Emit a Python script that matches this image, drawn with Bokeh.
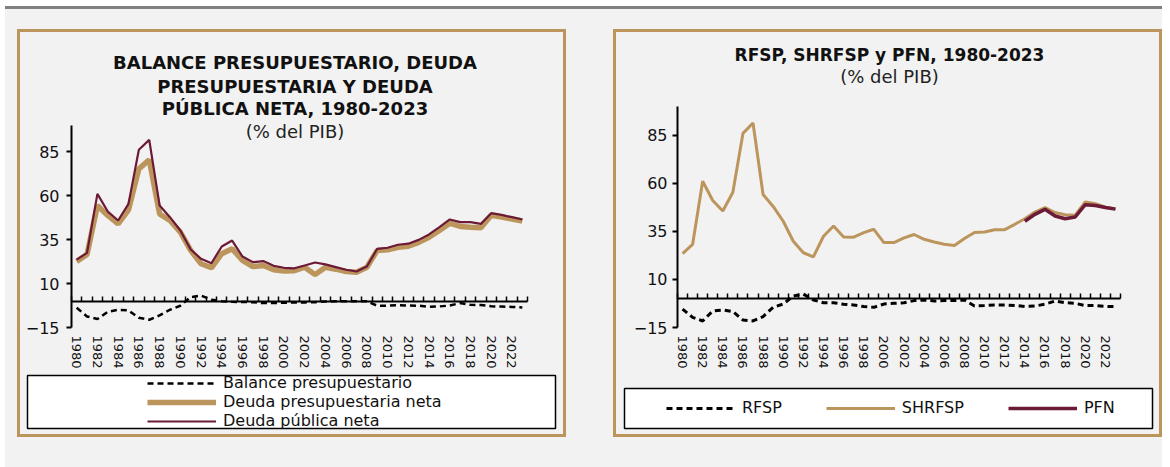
from bokeh.plotting import figure
from bokeh.models import (LinearAxis, FixedTicker, Range1d, Label, Legend, LegendItem,
                          BoxAnnotation)
from bokeh.layouts import row, column
from bokeh.embed import file_html
from bokeh.resources import INLINE

# ---------------- data ----------------
years = list(range(1980, 2024))
balance_presupuestario = [-3.8, -8.7, -10.2, -6.1, -4.9, -5.3, -9.5, -10.6, -8.1, -4.9,
                          -2.6, 2.3, 3.2, 0.8, 0.0, -0.4, -0.5, -0.6, -1.1, -1.1,
                          -0.9, -0.7, -0.7, -0.6, -0.2, -0.1, -0.1, 0.0, -0.1, -2.6,
                          -2.6, -2.3, -2.5, -2.6, -3.2, -3.0, -2.5, -1.1, -2.1, -2.2,
                          -2.9, -3.1, -3.3, -3.6]
deuda_presupuestaria = [22.6, 26.6, 54.5, 48.8, 44.0, 52.0, 75.3, 80.5, 49.7, 45.9,
                        39.3, 28.9, 21.3, 19.0, 27.0, 29.8, 23.2, 19.7, 20.3, 17.9,
                        17.1, 17.3, 19.3, 15.1, 19.3, 18.2, 16.9, 16.5, 19.3, 28.9,
                        29.2, 30.7, 31.3, 33.5, 36.4, 40.2, 44.4, 42.5, 42.1, 41.8,
                        48.9, 47.9, 46.8, 45.6]
deuda_publica = [23.6, 27.5, 61.1, 51.0, 45.9, 55.4, 86.2, 91.8, 54.5, 47.8,
                 40.2, 29.4, 24.1, 21.6, 31.1, 34.5, 25.4, 22.2, 22.8, 20.1,
                 19.0, 18.7, 20.3, 22.0, 20.9, 19.4, 17.9, 16.9, 19.7, 29.8,
                 30.4, 32.1, 32.7, 34.9, 38.0, 42.1, 46.5, 45.0, 45.0, 44.0,
                 50.1, 49.1, 47.8, 46.5]
rfsp = [-5.4, -9.7, -11.6, -6.4, -5.9, -6.7, -11.1, -11.6, -9.3, -4.5,
        -2.8, 1.4, 2.4, -0.7, -2.1, -2.1, -2.9, -3.3, -4.1, -4.5,
        -2.8, -2.4, -2.1, -1.0, -0.7, -1.2, -1.0, -1.0, -0.7, -3.8,
        -3.6, -3.3, -3.3, -3.5, -4.1, -3.8, -2.9, -1.2, -2.1, -2.4,
        -3.6, -3.6, -4.0, -4.1]
shrfsp = [23.5, 28.2, 61.1, 51.1, 45.6, 55.4, 86.0, 91.4, 54.2, 48.0,
          40.3, 29.9, 23.9, 21.8, 32.5, 37.8, 32.1, 32.0, 34.4, 36.1,
          29.2, 29.2, 31.6, 33.4, 30.9, 29.5, 28.3, 27.7, 31.3, 34.4,
          34.7, 35.9, 35.9, 38.7, 41.6, 45.1, 47.4, 44.8, 43.7, 43.4,
          50.3, 49.4, 47.6, 46.8]
pfn_years = list(range(2014, 2024))
pfn = [40.3, 43.9, 46.5, 43.0, 41.6, 42.5, 48.9, 48.5, 47.4, 46.6]

y_ticks = [-15, 10, 35, 60, 85]
y_min, y_max = -15, 100
x_label_years = years[::2]

# ---------------- style ----------------
FONT = "DejaVu Sans"
TAN = "#BC955C"
MAROON = "#6B1A37"
BG = "#F2F2F2"
PW, PH = 543, 402          # inner size of each panel (px)


class Geo:
    """maps panel pixel positions to data values so that the frame fills the panel"""
    def __init__(self, px0, px1, py_top, py_bot):
        x0, x1 = years[0] - 0.5, years[-1] + 0.5
        self.sx = (x1 - x0) / (px1 - px0)
        self.x_start = x0 - px0 * self.sx
        self.x_end = x1 + (PW - px1) * self.sx
        self.sy = (y_max - y_min) / (py_bot - py_top)
        self.y_end = y_max + py_top * self.sy
        self.y_start = y_min - (PH - py_bot) * self.sy

    def dx(self, px):
        return self.x_start + px * self.sx

    def dy(self, py):
        return self.y_end - py * self.sy


def make_chart(g, ylabel_standoff):
    p = figure(width=PW, height=PH, toolbar_location=None, output_backend="svg",
               x_range=Range1d(g.x_start, g.x_end), y_range=Range1d(g.y_start, g.y_end),
               x_axis_location=None, y_axis_location=None, min_border=0)
    p.background_fill_color = BG
    p.border_fill_color = BG
    p.outline_line_color = None
    p.xgrid.visible = False
    p.ygrid.visible = False
    x_lo, x_hi = years[0] - 0.5, years[-1] + 0.5

    ya = LinearAxis(ticker=FixedTicker(ticks=y_ticks), fixed_location=x_lo, bounds=(y_min, y_max))
    ya.axis_line_width = 2
    ya.axis_line_color = "black"
    ya.major_tick_out = 5
    ya.major_tick_in = 0
    ya.major_tick_line_width = 2
    ya.minor_tick_line_color = None
    ya.major_label_text_font = FONT
    ya.major_label_text_font_size = "16px"
    ya.major_label_text_color = "#111111"
    ya.major_label_standoff = ylabel_standoff
    p.add_layout(ya, "left")

    xl = LinearAxis(ticker=FixedTicker(ticks=x_label_years), fixed_location=y_min)
    xl.axis_line_color = None
    xl.major_tick_line_color = None
    xl.major_tick_out = 0
    xl.major_tick_in = 0
    xl.minor_tick_line_color = None
    xl.major_label_orientation = "vertical"
    xl.major_label_text_font = FONT
    xl.major_label_text_font_size = "13px"
    xl.major_label_text_color = "#111111"
    xl.major_label_standoff = 8
    xl.major_label_overrides = {y: str(y) for y in x_label_years}
    p.add_layout(xl, "below")

    bounds = [y - 0.5 for y in years] + [x_hi]
    xz = LinearAxis(ticker=FixedTicker(ticks=bounds), fixed_location=0, bounds=(x_lo, x_hi))
    xz.axis_line_width = 2
    xz.axis_line_color = "black"
    xz.major_tick_in = 5
    xz.major_tick_out = 0
    xz.major_tick_line_width = 1.5
    xz.minor_tick_line_color = None
    xz.major_label_text_alpha = 0
    xz.major_label_standoff = 0
    xz.major_label_overrides = {b: "" for b in bounds}
    p.add_layout(xz, "below")
    return p


def add_text(p, g, px, py, text, size, bold=False):
    p.add_layout(Label(x=g.dx(px), y=g.dy(py), text=text,
                       text_align="center", text_baseline="middle", text_font=FONT,
                       text_font_size=size, text_font_style="bold" if bold else "normal",
                       text_color="#111111" if bold else "#222222"))


def add_legend(p, g, box, renderers, labels, orientation, loc, spacing):
    left, right, top, bottom = box
    p.add_layout(BoxAnnotation(left=g.dx(left), right=g.dx(right), top=g.dy(top),
                               bottom=g.dy(bottom), fill_color="white", fill_alpha=1,
                               line_color="black", line_width=1.5, line_alpha=1))
    items = [LegendItem(label=l, renderers=[r]) for l, r in zip(labels, renderers)]
    lg = Legend(items=items, orientation=orientation, location=loc, padding=0, margin=0,
                spacing=spacing, border_line_color=None, background_fill_alpha=0,
                label_text_font=FONT, label_text_font_size="16px", label_text_color="#111111",
                glyph_width=69, glyph_height=16, label_height=16, label_standoff=7)
    p.add_layout(lg)


# ---------------- left panel ----------------
gL = Geo(51, 507, 93, 295)
pL = make_chart(gL, 7)
rb = pL.line(years, balance_presupuestario, line_color="black", line_width=2.5, line_dash="6 4")
rd = pL.line(years, deuda_presupuestaria, line_color=TAN, line_width=5.5)
rp = pL.line(years, deuda_publica, line_color=MAROON, line_width=2.2)
add_text(pL, gL, 274.5, 30, "BALANCE PRESUPUESTARIO, DEUDA", "18px", True)
add_text(pL, gL, 274.5, 54, "PRESUPUESTARIA Y DEUDA", "18px", True)
add_text(pL, gL, 274.5, 76, "PÚBLICA NETA, 1980-2023", "18px", True)
add_text(pL, gL, 274.5, 99, "(% del PIB)", "18px")
add_legend(pL, gL, (7, 535, 343, 396), [rb, rd, rp],
           ["Balance presupuestario", "Deuda presupuestaria neta", "Deuda pública neta"],
           "vertical", (127, 4), -1)

# ---------------- right panel ----------------
gR = Geo(61, 504, 74, 295)
pR = make_chart(gR, 5)
rr = pR.line(years, rfsp, line_color="black", line_width=3, line_dash="6 4")
rs = pR.line(years, shrfsp, line_color=TAN, line_width=3)
rf = pR.line(pfn_years, pfn, line_color=MAROON, line_width=3.5)
add_text(pR, gR, 273, 22, "RFSP, SHRFSP y PFN, 1980-2023", "17px", True)
add_text(pR, gR, 273, 44, "(% del PIB)", "18px")
add_legend(pR, gR, (8, 536, 356, 396), [rr, rs, rf], ["RFSP", "SHRFSP", "PFN"],
           "horizontal", (50, 17), 44)

panel_style = {"border": "3px solid " + TAN, "background-color": BG}
left_panel = column(pL, styles=panel_style, margin=(20, 0, 30, 12))
right_panel = column(pR, styles=panel_style, margin=(20, 0, 30, 47))

page = column(row(left_panel, right_panel),
              styles={"background-color": BG, "border-top": "3px solid #808080"},
              margin=(6, 0, 0, 5))

open("out.html", "w").write(file_html(page, INLINE))
